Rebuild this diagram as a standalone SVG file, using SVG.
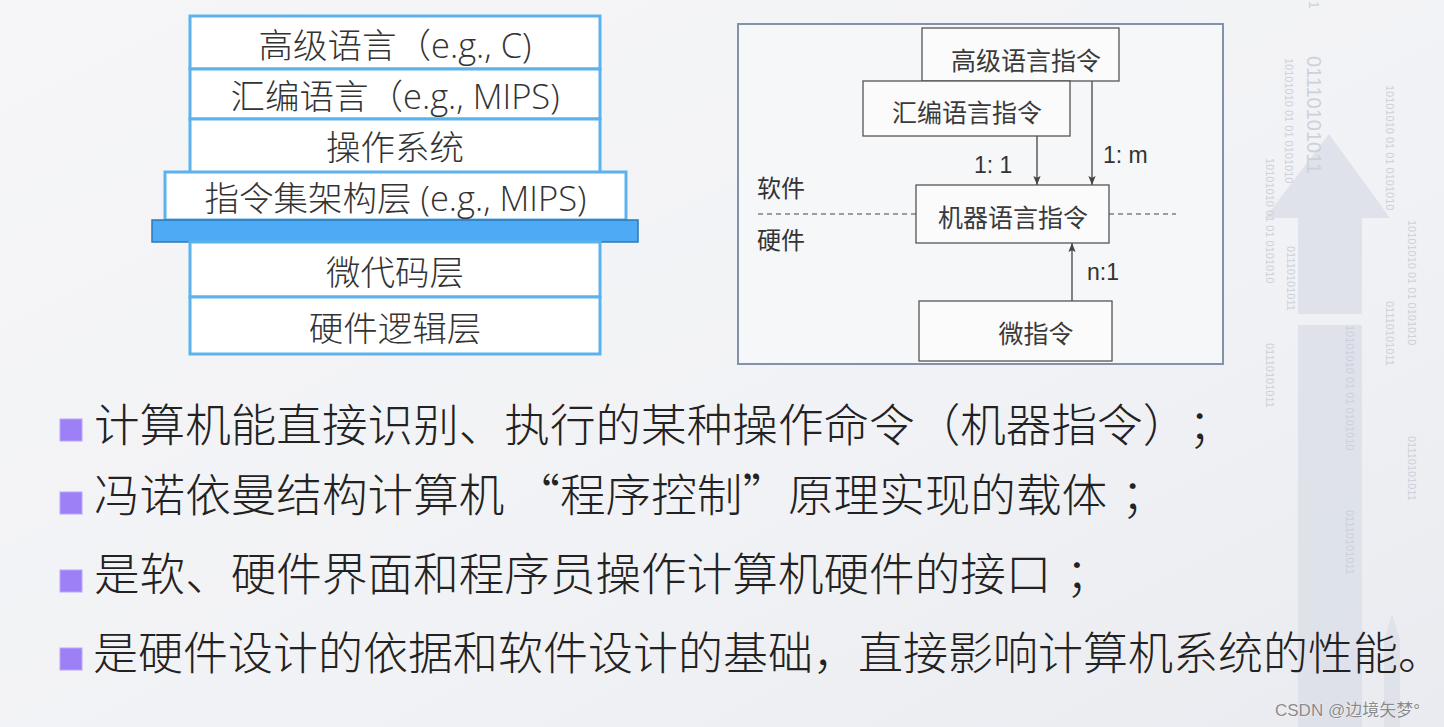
<svg xmlns="http://www.w3.org/2000/svg" width="1444" height="727" viewBox="0 0 1444 727">
<style>
  .cjk { font-family: "Noto Sans CJK SC", "Noto Sans", sans-serif; }
  .layer { fill: #ffffff; stroke: #5cb2ec; stroke-width: 3; }
  .ltxt { font-family: "Open Sans", "Noto Sans CJK SC", sans-serif; font-size: 34.5px; font-weight: 300; fill: #333333; text-anchor: middle; }
  .box { fill: #fbfbfc; stroke: #555555; stroke-width: 1.3; }
  .btxt { font-size: 25px; fill: #3a3a3a; text-anchor: middle; }
  .conn { stroke: #444444; stroke-width: 1.3; fill: none; }
  .dash { stroke: #444444; stroke-width: 1.2; stroke-dasharray: 5 4; fill: none; }
  .clbl { font-family: "Liberation Sans", "Noto Sans", sans-serif; font-size: 23px; fill: #333333; }
  .side { font-size: 24px; fill: #333333; }
  .bul { fill: #9d80f6; stroke: #b9a5fb; stroke-width: 1; }
  .btx { font-size: 45.6px; font-weight: 300; fill: #222222; text-spacing-trim: space-all; }
  .bin { font-family: "Liberation Sans", sans-serif; fill: #cdd1da; }
</style>
<defs>
  <linearGradient id="bg" x1="0" y1="0" x2="1" y2="1">
    <stop offset="0" stop-color="#f6f6f8"/>
    <stop offset="0.6" stop-color="#f1f2f5"/>
    <stop offset="1" stop-color="#e9ebf0"/>
  </linearGradient>
  <marker id="arr" viewBox="0 0 10 10" refX="10" refY="5" markerWidth="9" markerHeight="9" markerUnits="userSpaceOnUse" orient="auto">
    <path d="M0,1 L10,5 L0,9 L2,5 z" fill="#444444"/>
  </marker>
</defs>

<rect x="0" y="0" width="1444" height="727" fill="url(#bg)"/>

<!-- background decoration -->
<g id="decoration">
  <polygon points="1329,134 1390,218 1362,218 1362,314 1298,314 1298,218 1265,218" fill="#dcdfe7" opacity="0.85"/>
  <rect x="1298" y="325" width="64" height="402" fill="#dcdfe7" opacity="0.85"/>
  <polygon points="1392,614 1400,640 1400,727 1384,727 1384,640" fill="#dde0e8" opacity="0.8"/>
  <text class="bin" font-size="20" transform="translate(1307,56) rotate(90)">01110101011</text>
  <text class="bin" font-size="14" transform="translate(1309,1) rotate(90)">1</text>
  <text class="bin" font-size="11" transform="translate(1285,58) rotate(90)">10101010 01 01  0101010</text>
  <text class="bin" font-size="11" transform="translate(1266,158) rotate(90)">10101010 01 01  0101010</text>
  <text class="bin" font-size="11" transform="translate(1266,343) rotate(90)">01110101011</text>
  <text class="bin" font-size="11" transform="translate(1287,246) rotate(90)">01110101011</text>
  <text class="bin" font-size="11" transform="translate(1386,85) rotate(90)">10101010 01 01  0101010</text>
  <text class="bin" font-size="11" transform="translate(1386,301) rotate(90)">01110101011</text>
  <text class="bin" font-size="11" transform="translate(1408,220) rotate(90)">10101010 01 01  0101010</text>
  <text class="bin" font-size="11" transform="translate(1408,436) rotate(90)">01110101011</text>
  <text class="bin" font-size="11" transform="translate(1346,325) rotate(90)">10101010 01 01  0101010</text>
  <text class="bin" font-size="11" transform="translate(1346,510) rotate(90)">01110101011</text>
</g>

<!-- left layer stack -->
<g id="layer-hll">
  <rect class="layer" x="190" y="16" width="410" height="53"/>
  <text class="ltxt" x="395" y="58">高级语言（e.g., C)</text>
</g>
<g id="layer-asm">
  <rect class="layer" x="190" y="69" width="410" height="50"/>
  <text class="ltxt" x="395" y="109">汇编语言（e.g., MIPS)</text>
</g>
<g id="layer-os">
  <rect class="layer" x="190" y="119" width="410" height="56"/>
  <text class="ltxt" x="395" y="160">操作系统</text>
</g>
<g id="layer-isa">
  <rect class="layer" x="165" y="172" width="461" height="48"/>
  <text class="ltxt" x="395.5" y="211">指令集架构层 (e.g., MIPS)</text>
</g>
<g id="layer-bar">
  <rect x="152" y="220" width="486" height="22" fill="#4eaaf4" stroke="#2a78b8" stroke-width="1.5"/>
</g>
<g id="layer-micro">
  <rect class="layer" x="190" y="242" width="410" height="55"/>
  <text class="ltxt" x="395" y="285">微代码层</text>
</g>
<g id="layer-logic">
  <rect class="layer" x="190" y="297" width="410" height="57"/>
  <text class="ltxt" x="395" y="341">硬件逻辑层</text>
</g>

<!-- right diagram -->
<g id="frame">
  <rect x="738" y="24" width="485" height="340" fill="#f6f7f9" stroke="#8391aa" stroke-width="2"/>
</g>
<g id="connectors">
  <line class="dash" x1="758" y1="214" x2="916" y2="214"/>
  <line class="dash" x1="1109" y1="214" x2="1176" y2="214"/>
  <line class="conn" x1="1037" y1="136" x2="1037" y2="185" marker-end="url(#arr)"/>
  <line class="conn" x1="1092" y1="81" x2="1092" y2="185" marker-end="url(#arr)"/>
  <line class="conn" x1="1072" y1="301" x2="1072" y2="243" marker-end="url(#arr)"/>
  <text class="clbl" x="974" y="173">1: 1</text>
  <text class="clbl" x="1103" y="163">1: m</text>
  <text class="clbl" x="1087" y="280">n:1</text>
</g>
<g id="side-labels">
  <text class="cjk side" x="757" y="197">软件</text>
  <text class="cjk side" x="757" y="249">硬件</text>
</g>
<g id="node-hll">
  <rect class="box" x="922" y="28" width="197" height="53"/>
  <text class="cjk btxt" x="1026" y="70">高级语言指令</text>
</g>
<g id="node-asm">
  <rect class="box" x="863" y="81" width="207" height="55"/>
  <text class="cjk btxt" x="967" y="122">汇编语言指令</text>
</g>
<g id="node-machine">
  <rect class="box" x="916" y="185" width="193" height="58"/>
  <text class="cjk btxt" x="1013" y="227">机器语言指令</text>
</g>
<g id="node-micro">
  <rect class="box" x="919" y="301" width="193" height="60"/>
  <text class="cjk btxt" x="1036" y="343">微指令</text>
</g>

<!-- bullets -->
<g id="bullets">
  <rect class="bul" x="60" y="419" width="22" height="22"/>
  <text class="cjk btx" x="94" y="442">计算机能直接识别、执行的某种操作命令（机器指令）；</text>
  <rect class="bul" x="60" y="492" width="22" height="22"/>
  <text class="cjk btx" x="94" y="512">冯诺依曼结构计算机 “程序控制”原理实现的载体<tspan dx="14">；</tspan></text>
  <rect class="bul" x="60" y="570" width="22" height="22"/>
  <text class="cjk btx" x="94" y="591">是软、硬件界面和程序员操作计算机硬件的接口<tspan dx="14">；</tspan></text>
  <rect class="bul" x="60" y="648" width="22" height="22"/>
  <text class="cjk btx" x="93" y="670" style="font-size:45px">是硬件设计的依据和软件设计的基础，直接影响计算机系统的性能。</text>
</g>

<g id="watermark">
  <text x="1275" y="716" font-family="'Liberation Sans','Noto Sans CJK SC',sans-serif" font-size="17" fill="#8a8a8a" stroke="#ffffff" stroke-width="0.6" paint-order="stroke">CSDN @边境矢梦°</text>
</g>
</svg>
